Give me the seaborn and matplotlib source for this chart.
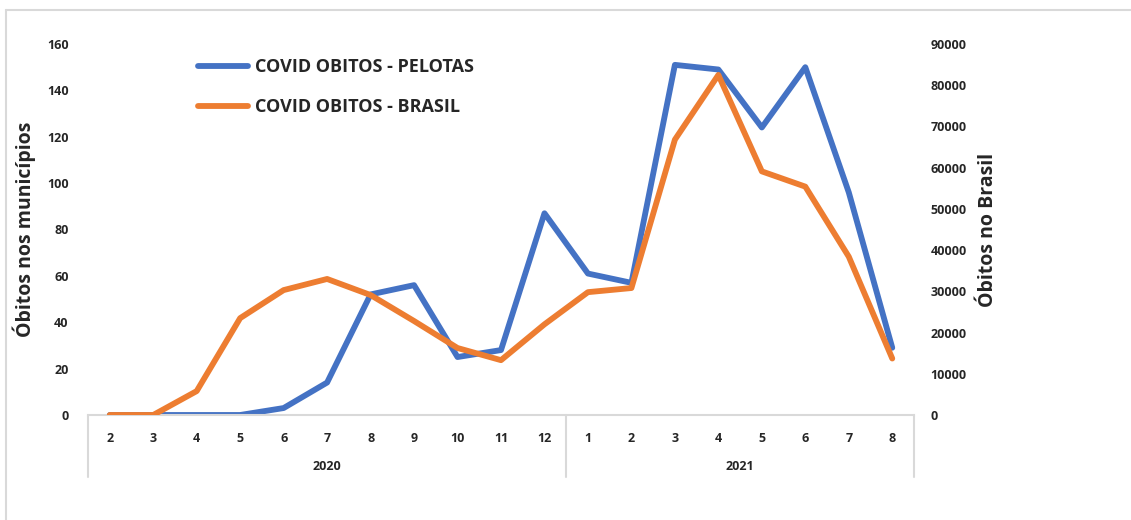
import matplotlib
matplotlib.use("Agg")
import matplotlib.pyplot as plt
import matplotlib.transforms as mtransforms
import matplotlib.lines as mlines
import seaborn as sns
import pandas as pd
import numpy as np

months = ["2", "3", "4", "5", "6", "7", "8", "9", "10", "11", "12",
          "1", "2", "3", "4", "5", "6", "7", "8"]
years = ["2020", "2021"]
year_sizes = [11, 8]
pelotas = [0, 0, 0, 0, 3, 14, 52, 56, 25, 28, 87, 61, 57, 151, 149, 124, 150, 96, 29]
brasil = [0, 0, 5800, 23500, 30300, 33000, 29100, 22800, 16250, 13300, 22000,
          29800, 30800, 66800, 82500, 59100, 55400, 38400, 13700]
label_pel = "COVID OBITOS - PELOTAS"
label_bra = "COVID OBITOS - BRASIL"

sns.set_style("white")
plt.rcParams['font.family'] = ['Open Sans', 'DejaVu Sans']
plt.rcParams['font.weight'] = 'bold'

blue = "#4472C4"
orange = "#ED7D31"
grey = "#D9D9D9"

fig = plt.figure(figsize=(11.31, 5.2), dpi=100)
ax = fig.add_axes([88/1131, 1-415/520, (914-88)/1131, (415-44)/520])
ax2 = ax.twinx()

x = np.arange(len(months))
df = pd.DataFrame({"x": x, "pel": pelotas, "bra": brasil})

sns.lineplot(data=df, x="x", y="pel", ax=ax, color=blue, linewidth=4.2, label=label_pel, legend=False)
sns.lineplot(data=df, x="x", y="bra", ax=ax2, color=orange, linewidth=4.2, label=label_bra, legend=False)

ax.set_xlim(-0.5, len(months) - 0.5)
ax.set_ylim(0, 160)
ax2.set_ylim(0, 90000)
ax.set_yticks(np.arange(0, 161, 20))
ax2.set_yticks(np.arange(0, 90001, 10000))
ax.set_xticks(x)
ax.set_xticklabels(months, fontsize=9, fontweight='bold')
ax.tick_params(axis='x', length=0, pad=12)
ax.tick_params(axis='y', length=0, pad=14, labelsize=9)
ax2.tick_params(axis='y', length=0, pad=12, labelsize=9)
for lab in ax.get_yticklabels() + ax2.get_yticklabels():
    lab.set_fontweight('bold')

ax.set_xlabel("")
ax.set_ylabel("Óbitos nos municípios", fontsize=14, fontweight='bold', labelpad=8)
ax2.set_ylabel("Óbitos no Brasil", fontsize=14, fontweight='bold', labelpad=8)

for a in (ax, ax2):
    for s in a.spines.values():
        s.set_visible(False)
    a.grid(False)
ax.spines['bottom'].set_visible(True)
ax.spines['bottom'].set_color(grey)
ax.spines['bottom'].set_linewidth(1.5)

# category group box
trans = mtransforms.blended_transform_factory(ax.transData, ax.transAxes)
depth = -(477 - 415) / 371
bounds = np.concatenate([[0], np.cumsum(year_sizes)]) - 0.5
for b in bounds:
    ax.plot([b, b], [0, depth], transform=trans, color=grey, linewidth=1.5, clip_on=False)
for i, yr in enumerate(years):
    cx = (bounds[i] + bounds[i + 1]) / 2
    ax.text(cx, -(466 - 415) / 371, yr, transform=trans, ha='center', va='center',
            fontsize=9, fontweight='bold')

h1, l1 = ax.get_legend_handles_labels()
h2, l2 = ax2.get_legend_handles_labels()
leg = ax2.legend(h1 + h2, l1 + l2, loc='upper left', bbox_to_anchor=(0.113, 1.005),
                 frameon=False, handlelength=2.8, labelspacing=1.2, handletextpad=0.4,
                 prop={'size': 13, 'weight': 'bold'})

# chart-area border (left and top only, as in the reference)
fig.add_artist(mlines.Line2D([6/1131, 6/1131], [0, 1-10/520], transform=fig.transFigure,
                             color=grey, linewidth=1.5))
fig.add_artist(mlines.Line2D([6/1131, 1], [1-10/520, 1-10/520], transform=fig.transFigure,
                             color=grey, linewidth=1.5))
fig.savefig("out.png", dpi=100)
